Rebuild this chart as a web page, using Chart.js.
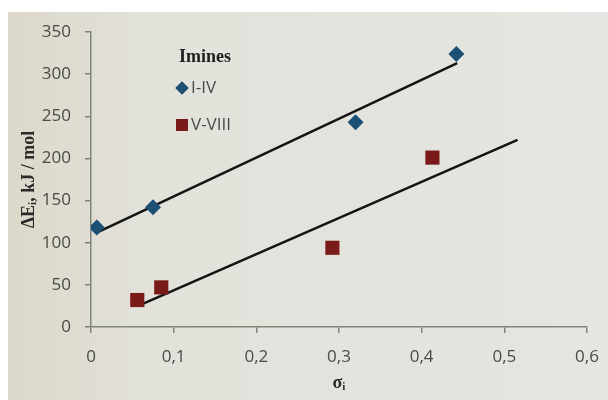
<!DOCTYPE html>
<html>
<head>
<meta charset="utf-8">
<script src="https://cdn.jsdelivr.net/npm/chart.js@4.4.1/dist/chart.umd.min.js"></script>
<style>
    body { margin: 0; background: #ffffff; }
    #wrap {
        position: absolute; left: 8px; top: 12px; width: 600px; height: 388px;
        background: linear-gradient(90deg, #dcd8c9 0%, #e2e1da 22%, #e5e6e1 100%);
    }
</style>
</head>
<body>
<div id="wrap"><canvas id="scatterChart"></canvas></div>
<script>
// series names
var series_names = ["I-IV", "V-VIII"];

// I-IV points (sigma_i, dE)
var sigma_1 = [0.007, 0.075, 0.32, 0.442];
var energy_1 = [118, 142, 243, 324];

// V-VIII points
var sigma_2 = [0.056, 0.085, 0.292, 0.413];
var energy_2 = [32, 47, 94, 201];

// trend lines, end points
var trend_x_1 = [0.007, 0.443];
var trend_y_1 = [112, 313];
var trend_x_2 = [0.057, 0.516];
var trend_y_2 = [25, 222];

var toPoints = (xs, ys) => xs.map((x, i) => ({ x: x, y: ys[i] }));

var axisColor = "#7f857b";
var labelColor = "#484b47";
var serif = "'Liberation Serif', 'DejaVu Serif', serif";

Chart.defaults.font.family = "'Open Sans', sans-serif";

//----------------
//- LEGEND PLUGIN -
//----------------
var legendBox = {
    id: "legendBox",
    afterDatasetsDraw(chart) {
        var ctx = chart.ctx;
        var area = chart.chartArea;
        var x0 = area.left + 88;
        var y0 = area.top + 25;
        ctx.save();
        ctx.fillStyle = "#1e1e1e";
        ctx.font = "bold 18px " + serif;
        ctx.textBaseline = "middle";
        ctx.fillText("Imines", x0, y0);
        ctx.font = "17px 'Open Sans', sans-serif";
        for (var i = 0; i < 2; i++) {
            var ds = chart.data.datasets[i];
            var cy = y0 + 31 + i * 37;
            Chart.helpers.drawPoint(ctx, {
                pointStyle: ds.pointStyle,
                radius: i === 0 ? 6.5 : 8.5,
                borderWidth: 0,
            }, x0 + 3, cy);
            ctx.fillStyle = ds.backgroundColor;
            ctx.fill();
            ctx.fillStyle = labelColor;
            ctx.fillText(ds.label, x0 + 12, cy);
        }
        ctx.restore();
    },
};

var ctx = document.getElementById("scatterChart").getContext("2d");

new Chart(ctx, {
    type: "scatter",
    data: {
        datasets: [
            {
                label: series_names[0],
                data: toPoints(sigma_1, energy_1),
                pointStyle: "rectRot",
                pointRadius: 8,
                backgroundColor: "#1b4f74",
                borderWidth: 0,
                order: 1,
            },
            {
                label: series_names[1],
                data: toPoints(sigma_2, energy_2),
                pointStyle: "rect",
                pointRadius: 10,
                backgroundColor: "#7a1b19",
                borderWidth: 0,
                order: 1,
            },
            {
                data: toPoints(trend_x_1, trend_y_1),
                showLine: true,
                pointRadius: 0,
                borderColor: "#141414",
                borderWidth: 2.5,
                order: 2,
            },
            {
                data: toPoints(trend_x_2, trend_y_2),
                showLine: true,
                pointRadius: 0,
                borderColor: "#141414",
                borderWidth: 2.5,
                order: 2,
            },
        ],
    },
    options: {
        responsive: true,
        maintainAspectRatio: false,
        animation: false,
        layout: { padding: { top: 20, right: 21, left: 0, bottom: 0 } },
        plugins: {
            legend: { display: false },
            tooltip: { enabled: false },
        },
        scales: {
            x: {
                type: "linear",
                min: 0,
                max: 0.6,
                afterFit: (scale) => {
                    scale.height = 73;
                    scale.paddingLeft = 0;
                    scale.paddingRight = 0;
                },
                ticks: {
                    stepSize: 0.1,
                    color: labelColor,
                    font: { size: 17 },
                    padding: 14,
                    callback: (v) => (v === 0 ? "0" : v.toFixed(1).replace(".", ",")),
                },
                grid: { drawOnChartArea: false, drawTicks: true, tickLength: 6, color: axisColor, lineWidth: 1.5 },
                border: { color: axisColor, width: 1.5 },
                title: {
                    display: true,
                    text: "σᵢ",
                    color: "#2a2a2a",
                    font: { family: serif, size: 18, weight: "bold" },
                    padding: { top: 0, bottom: 6 },
                },
            },
            y: {
                min: 0,
                max: 350,
                afterFit: (scale) => {
                    scale.width = 83;
                    scale.paddingTop = 0;
                    scale.paddingBottom = 0;
                },
                ticks: {
                    stepSize: 50,
                    color: labelColor,
                    font: { size: 17 },
                    padding: 14,
                },
                grid: { drawOnChartArea: false, drawTicks: true, tickLength: 6, color: axisColor, lineWidth: 1.5 },
                border: { color: axisColor, width: 1.5 },
                title: {
                    display: true,
                    text: "ΔEᵢ, kJ / mol",
                    color: "#2a2a2a",
                    font: { family: serif, size: 18, weight: "bold" },
                    padding: { top: 11, bottom: 0 },
                },
            },
        },
    },
    plugins: [legendBox],
});
</script>
</body>
</html>
